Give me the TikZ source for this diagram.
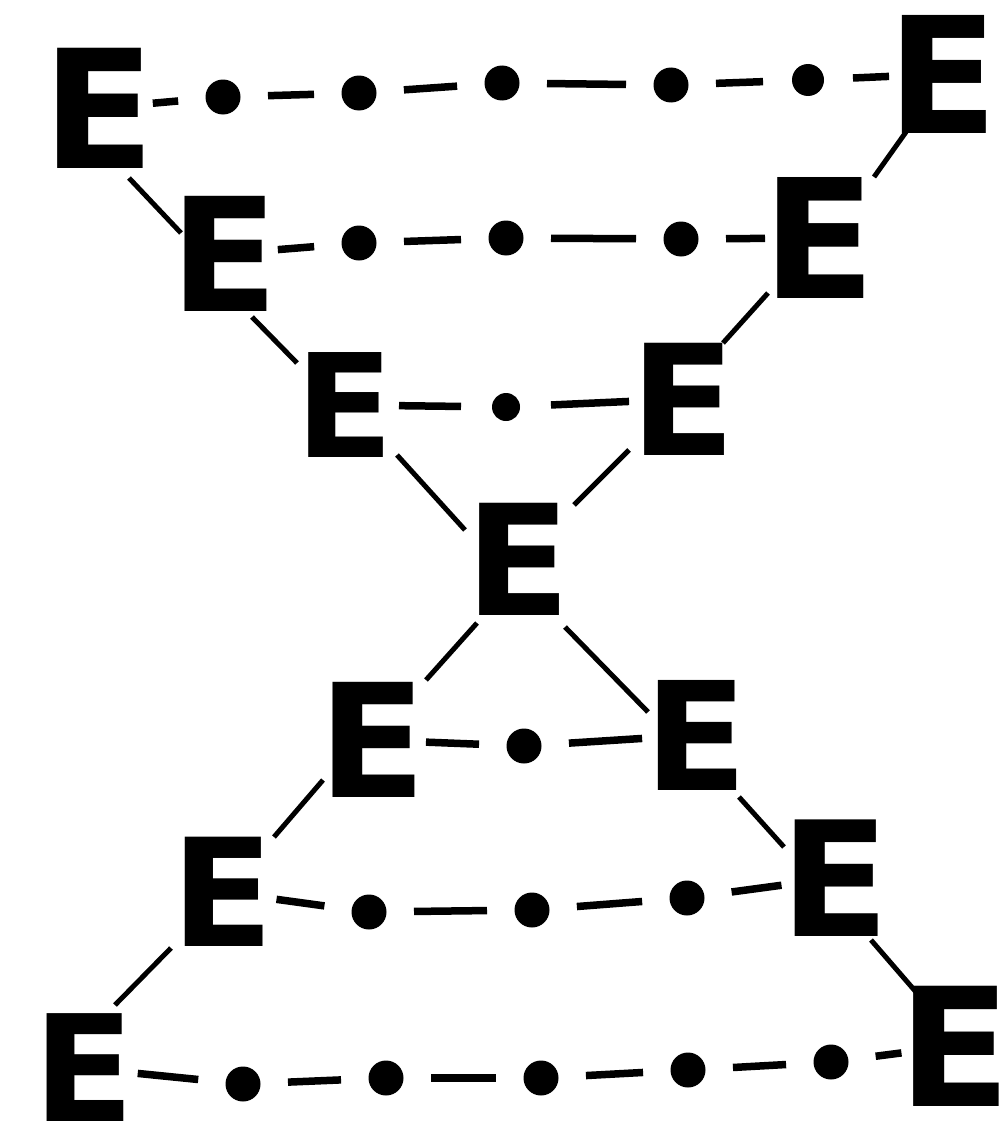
\documentclass[tikz,border=0pt]{standalone}
\usepackage{fontspec}
\setmainfont{DejaVu Sans}
\begin{document}
\begin{tikzpicture}[x=1pt,y=-1pt,
  letter/.style={inner sep=0pt, font=\bfseries\fontsize{#1}{#1}\selectfont},
  letter/.default=155,
  dot/.style={circle, fill=black, inner sep=0pt, minimum size=#1},
  dot/.default=35pt,
  seg/.style={line width=7.5pt},
  ed/.style={seg, shorten <=54pt, shorten >=45pt},
  dd/.style={seg, shorten <=45pt, shorten >=45pt},
  de/.style={seg, shorten <=45pt, shorten >=54pt},
  diag/.style={line width=5pt}]
\useasboundingbox (0,0) rectangle (1004,1132);
% letters
\node[letter=165] (r1L) at (99,108) {E};
\node[letter=162] (r1R) at (943,74) {E};
\node[letter=158] (r2L) at (224,254) {E};
\node[letter=166] (r2R) at (819,238) {E};
\node[letter=144] (r3L) at (345,405) {E};
\node[letter=154] (r3R) at (683,399) {E};
\node[letter=154] (C) at (518,559) {E};
\node[letter=158] (r5L) at (372,740) {E};
\node[letter=151] (r5R) at (696,735) {E};
\node[letter=150] (r6L) at (223,892) {E};
\node[letter=160] (r6R) at (835,878) {E};
\node[letter=148] (r7L) at (84,1068) {E};
\node[letter=165] (r7R) at (955,1046) {E};
% dots
\node[dot] (d11) at (223,97) {};
\node[dot] (d12) at (359,93) {};
\node[dot] (d13) at (502,83) {};
\node[dot] (d14) at (671,85) {};
\node[dot=32pt] (d15) at (808,80) {};
\node[dot] (d21) at (359,243) {};
\node[dot] (d22) at (506,238) {};
\node[dot] (d23) at (681,239) {};
\node[dot=28pt] (d31) at (506,407) {};
\node[dot] (d51) at (524,746) {};
\node[dot] (d61) at (369,912) {};
\node[dot] (d62) at (532,910) {};
\node[dot] (d63) at (687,898) {};
\node[dot] (d71) at (243,1084) {};
\node[dot] (d72) at (386,1078) {};
\node[dot] (d73) at (541,1078) {};
\node[dot] (d74) at (688,1070) {};
\node[dot] (d75) at (831,1062) {};
% row dashes
\draw[ed] (r1L.center) -- (d11.center);
\draw[dd] (d11.center) -- (d12.center);
\draw[dd] (d12.center) -- (d13.center);
\draw[dd] (d13.center) -- (d14.center);
\draw[dd] (d14.center) -- (d15.center);
\draw[de] (d15.center) -- (r1R.center);
\draw[ed] (r2L.center) -- (d21.center);
\draw[dd] (d21.center) -- (d22.center);
\draw[dd] (d22.center) -- (d23.center);
\draw[de] (d23.center) -- (r2R.center);
\draw[ed] (r3L.center) -- (d31.center);
\draw[de] (d31.center) -- (r3R.center);
\draw[ed] (r5L.center) -- (d51.center);
\draw[de] (d51.center) -- (r5R.center);
\draw[ed] (r6L.center) -- (d61.center);
\draw[dd] (d61.center) -- (d62.center);
\draw[dd] (d62.center) -- (d63.center);
\draw[de] (d63.center) -- (r6R.center);
\draw[ed] (r7L.center) -- (d71.center);
\draw[dd] (d71.center) -- (d72.center);
\draw[dd] (d72.center) -- (d73.center);
\draw[dd] (d73.center) -- (d74.center);
\draw[dd] (d74.center) -- (d75.center);
\draw[de] (d75.center) -- (r7R.center);
% diagonals, left side
\draw[diag] ([shift={(30,70)}]r1L.center) -- ([shift={(-43,-21)}]r2L.center);
\draw[diag] ([shift={(28,63)}]r2L.center) -- ([shift={(-48,-42)}]r3L.center);
\draw[diag] ([shift={(52,50)}]r3L.center) -- ([shift={(-53,-29)}]C.center);
\draw[diag] ([shift={(-41,64)}]C.center) -- ([shift={(54,-60)}]r5L.center);
\draw[diag] ([shift={(-49,40)}]r5L.center) -- ([shift={(51,-55)}]r6L.center);
\draw[diag] ([shift={(-52,56)}]r6L.center) -- ([shift={(31,-63)}]r7L.center);
% diagonals, right side
\draw[diag] ([shift={(-37,58)}]r1R.center) -- ([shift={(55,-61)}]r2R.center);
\draw[diag] ([shift={(-51,55)}]r2R.center) -- ([shift={(40,-56)}]r3R.center);
\draw[diag] ([shift={(-54,51)}]r3R.center) -- ([shift={(56,-54)}]C.center);
\draw[diag] ([shift={(47,68)}]C.center) -- ([shift={(-48,-23)}]r5R.center);
\draw[diag] ([shift={(43,62)}]r5R.center) -- ([shift={(-51,-31)}]r6R.center);
\draw[diag] ([shift={(36,62)}]r6R.center) -- ([shift={(-39,-54)}]r7R.center);
\end{tikzpicture}
\end{document}
